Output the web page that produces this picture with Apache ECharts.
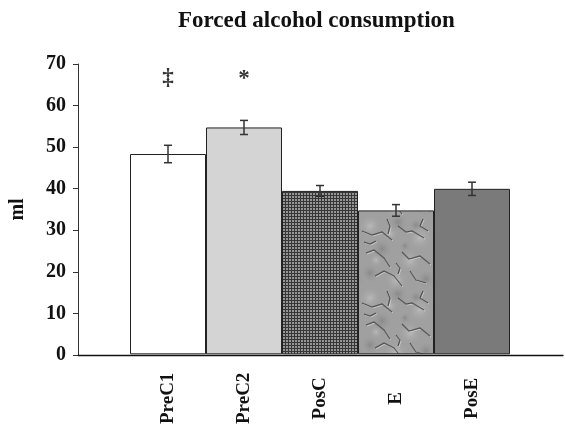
<!DOCTYPE html>
<html>
<head>
<meta charset="utf-8">
<script src="https://cdn.jsdelivr.net/npm/echarts/dist/echarts.min.js"></script>
<style>
  html, body { margin: 0; padding: 0; background: #fff; }
  #chart { width: 565px; height: 427px; }
</style>
</head>
<body>
<div id="chart"></div>
<script>
// Group labels, mean volumes (ml) and standard errors
const categories = ['PreC1', 'PreC2', 'PosC', 'E', 'PosE'];
const means = [48.3, 54.7, 39.4, 34.7, 39.9];
const errors = [2.1, 1.7, 1.3, 1.4, 1.6];
// Significance symbols and the height (ml) they sit at
const markers = ['\u2021', '*', '', '', ''];
const markerLevels = [66.5, 66.4, null, null, null];
// Value axis range
const yMin = 0, yMax = 70, yStep = 10;

const SERIF = '"Liberation Serif", "DejaVu Serif", serif';

// Fine cross-hatch fill
function hatchPattern() {
  const c = document.createElement('canvas');
  c.width = 3; c.height = 3;
  const g = c.getContext('2d');
  g.fillStyle = '#969696';
  g.fillRect(0, 0, 3, 3);
  g.fillStyle = '#363636';
  g.fillRect(0, 0, 1, 3);
  g.fillRect(0, 0, 3, 1);
  return c;
}

// Crumpled-paper style fill: mottled shading with soft creases
function crumplePattern() {
  const s = 72;
  const c = document.createElement('canvas');
  c.width = s; c.height = s;
  const g = c.getContext('2d');
  g.fillStyle = '#a0a0a0';
  g.fillRect(0, 0, s, s);
  // light and dark patches
  const patches = [
    [10, 10, 12, 1], [38, 6, 10, 0], [60, 22, 13, 1], [22, 33, 11, 0],
    [50, 45, 12, 1], [10, 57, 10, 0], [36, 64, 12, 1], [66, 63, 10, 0],
    [30, 18, 8, 1], [56, 9, 7, 0], [16, 44, 7, 1], [45, 30, 6, 0]
  ];
  patches.forEach(([x, y, r, light]) => {
    for (let dx = -s; dx <= s; dx += s) {
      for (let dy = -s; dy <= s; dy += s) {
        const grd = g.createRadialGradient(x + dx, y + dy, 0, x + dx, y + dy, r);
        grd.addColorStop(0, light ? 'rgba(210,210,210,0.5)' : 'rgba(110,110,110,0.45)');
        grd.addColorStop(1, 'rgba(160,160,160,0)');
        g.fillStyle = grd;
        g.fillRect(x + dx - r, y + dy - r, 2 * r, 2 * r);
      }
    }
  });
  // creases: jagged polylines with a light edge beside a dark one
  const creases = [
    [[2, 15], [12, 19], [22, 16], [32, 24]],
    [[38, 10], [46, 16], [52, 15], [64, 22]],
    [[6, 37], [14, 34], [24, 42], [30, 51]],
    [[42, 36], [49, 43], [60, 40], [70, 48]],
    [[15, 60], [24, 55], [34, 60], [42, 70]],
    [[50, 55], [56, 64], [66, 67]],
    [[27, 3], [30, 10], [28, 18]],
    [[63, 3], [60, 10], [68, 15]],
    [[4, 26], [10, 28], [16, 25]],
    [[36, 47], [40, 52], [38, 58]]
  ];
  creases.forEach(pts => {
    [['rgba(225,225,225,0.6)', 1, 1], ['rgba(55,55,55,0.75)', 1.2, 0]].forEach(([col, w, off]) => {
      g.beginPath();
      g.strokeStyle = col;
      g.lineWidth = w;
      pts.forEach(([x, y], k) => (k ? g.lineTo(x + off, y + off) : g.moveTo(x + off, y + off)));
      g.stroke();
    });
  });
  return c;
}

const fills = [
  '#ffffff',
  '#d4d4d4',
  { image: hatchPattern(), repeat: 'repeat' },
  { image: crumplePattern(), repeat: 'repeat' },
  '#7a7a7a'
];

const chart = echarts.init(document.getElementById('chart'), null, { renderer: 'canvas' });

chart.setOption({
  animation: false,
  backgroundColor: '#ffffff',
  title: {
    text: 'Forced alcohol consumption',
    left: 173,
    top: 5,
    textStyle: { fontFamily: SERIF, fontWeight: 'bold', fontSize: 23, color: '#111' }
  },
  grid: [
    { left: 72, right: 2, top: 64, bottom: 72 },
    { left: 130, right: 55, top: 64, bottom: 72 }
  ],
  xAxis: [
    {
      gridIndex: 0, type: 'value', min: 0, max: 1,
      axisLine: { lineStyle: { color: '#111', width: 1.4 } },
      axisTick: { show: false }, axisLabel: { show: false }, splitLine: { show: false }
    },
    {
      gridIndex: 1, type: 'category', data: categories,
      axisLine: { show: false }, axisTick: { show: false },
      axisLabel: {
        rotate: 90, align: 'center', verticalAlign: 'middle', margin: 44,
        fontFamily: SERIF, fontWeight: 'bold', fontSize: 19, color: '#111'
      }
    }
  ],
  yAxis: [
    {
      gridIndex: 0, type: 'value', min: yMin, max: yMax, interval: yStep,
      name: 'ml', nameLocation: 'middle', nameGap: 50, nameRotate: 90,
      nameTextStyle: { fontFamily: SERIF, fontWeight: 'bold', fontSize: 20, color: '#111' },
      axisLine: { show: true, lineStyle: { color: '#333', width: 1 } },
      axisTick: { show: true, length: 5, lineStyle: { color: '#333' } },
      axisLabel: { margin: 12, fontFamily: SERIF, fontWeight: 'bold', fontSize: 20, color: '#111' },
      splitLine: { show: false }
    },
    {
      gridIndex: 1, type: 'value', min: yMin, max: yMax, interval: yStep, show: false
    }
  ],
  series: [
    {
      type: 'bar', xAxisIndex: 1, yAxisIndex: 1,
      barCategoryGap: '0%',
      data: means.map((v, i) => ({
        value: v,
        itemStyle: { color: fills[i], borderColor: '#222', borderWidth: 1 }
      }))
    },
    {
      type: 'custom', xAxisIndex: 1, yAxisIndex: 1, z: 5,
      encode: { x: 0, y: 1 },
      data: means.map((v, i) => [i, v, errors[i]]),
      renderItem(params, api) {
        const x = api.value(0), m = api.value(1), e = api.value(2);
        const hi = api.coord([x, m + e]);
        const lo = api.coord([x, m - e]);
        const hw = 4;
        const st = { stroke: '#333', lineWidth: 1.5 };
        return {
          type: 'group',
          children: [
            { type: 'line', shape: { x1: hi[0], y1: hi[1], x2: lo[0], y2: lo[1] }, style: st },
            { type: 'line', shape: { x1: hi[0] - hw, y1: hi[1], x2: hi[0] + hw, y2: hi[1] }, style: st },
            { type: 'line', shape: { x1: lo[0] - hw, y1: lo[1], x2: lo[0] + hw, y2: lo[1] }, style: st }
          ]
        };
      }
    },
    {
      type: 'scatter', xAxisIndex: 1, yAxisIndex: 1, z: 6,
      symbolSize: 1, itemStyle: { color: 'rgba(0,0,0,0)' },
      data: markerLevels.map((v, i) => (v == null ? null : [i, v])).filter(d => d),
      label: {
        show: true, position: 'inside',
        formatter: p => markers[p.data[0]],
        fontFamily: SERIF, fontWeight: 'bold', fontSize: 23, color: '#000',
        textBorderWidth: 0
      }
    }
  ]
});
</script>
</body>
</html>
